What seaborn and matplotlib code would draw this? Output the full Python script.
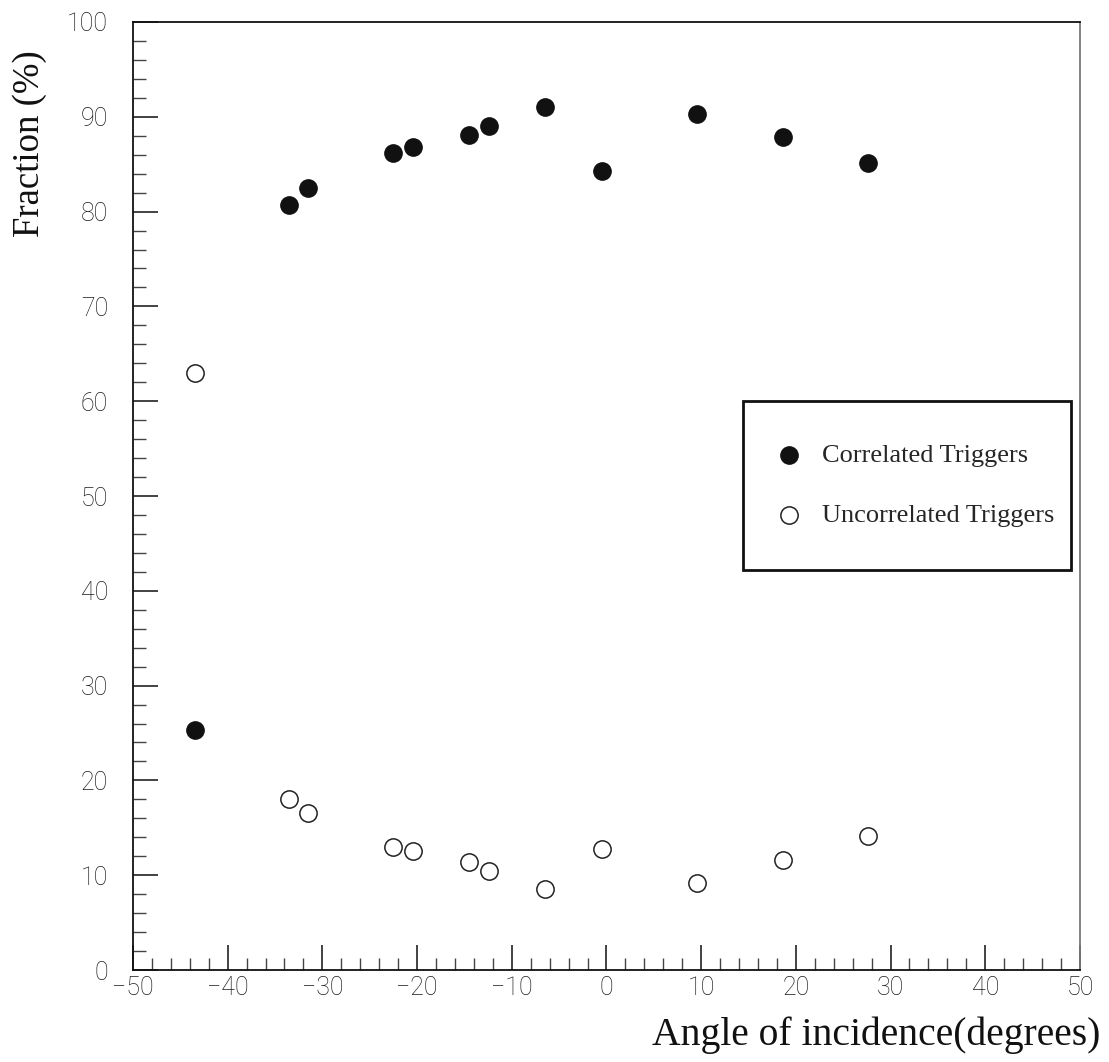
import numpy as np
import pandas as pd
import matplotlib
matplotlib.use("Agg")
import matplotlib.pyplot as plt
from matplotlib.ticker import MultipleLocator
import seaborn as sns

angles = [-43.5, -33.5, -31.5, -22.5, -20.4, -14.5, -12.4, -6.5, -0.5, 9.6, 18.6, 27.6]
correlated = [25.3, 80.7, 82.5, 86.2, 86.8, 88.1, 89.0, 91.0, 84.3, 90.3, 87.9, 85.1]
uncorrelated = [63.0, 18.0, 16.6, 13.0, 12.6, 11.4, 10.4, 8.5, 12.8, 9.2, 11.6, 14.1]

sns.set_theme(style="ticks")
plt.rcParams['font.family'] = ['Roboto', 'DejaVu Sans']

fig = plt.figure(figsize=(11.09, 10.62), dpi=100)
ax = fig.add_axes([0.1199, 0.0866, 0.8539, 0.8927])

df_c = pd.DataFrame({"angle": angles, "frac": correlated})
df_u = pd.DataFrame({"angle": angles, "frac": uncorrelated})

sns.scatterplot(data=df_c, x="angle", y="frac", ax=ax, s=155, color="#111111",
                edgecolor="#111111", linewidth=1.0, marker="o", label="Correlated Triggers", zorder=3)
sns.scatterplot(data=df_u, x="angle", y="frac", ax=ax, s=155, facecolor="white",
                edgecolor="#222222", linewidth=1.1, marker="o", label="Uncorrelated Triggers", zorder=3)

ax.set_xlim(-50, 50)
ax.set_ylim(0, 100)
ax.xaxis.set_major_locator(MultipleLocator(10))
ax.xaxis.set_minor_locator(MultipleLocator(2))
ax.yaxis.set_major_locator(MultipleLocator(10))
ax.yaxis.set_minor_locator(MultipleLocator(2))
ax.tick_params(which="major", direction="in", length=18, width=1.2, color="#222222",
               labelsize=18, labelcolor="#1a1a1a", top=False, right=False)
ax.tick_params(axis="x", which="major", pad=4)
ax.tick_params(axis="y", which="major", pad=18)
ax.tick_params(which="minor", direction="in", length=9, width=1.0, color="#444444",
               top=False, right=False)
for lbl in ax.get_xticklabels() + ax.get_yticklabels():
    lbl.set_fontweight("light")
for sp in ax.spines.values():
    sp.set_visible(True)
    sp.set_linewidth(1.3)
    sp.set_color("#111111")
ax.spines["right"].set_color("#777777")

ax.set_xlabel("")
ax.set_ylabel("")
fig.text(0.992, 0.008, "Angle of incidence(degrees)", ha="right", va="bottom",
         fontsize=28.5, family="Liberation Serif", color="#111111")
fig.text(0.011, 1 - 237 / 1062, "Fraction (%)", ha="left", va="bottom", rotation=90,
         fontsize=26.5, family="Liberation Serif", color="#111111")

leg = ax.legend(loc="upper left", bbox_to_anchor=(0.644, 0.426, 0.347, 0.174),
                mode="expand", frameon=True,
                fancybox=False, shadow=False, edgecolor="#111111",
                prop={"family": "Liberation Serif", "size": 19},
                borderpad=1.6, labelspacing=1.4, handletextpad=1.1,
                handlelength=0.3, borderaxespad=0, markerscale=1.0)
leg.get_frame().set_linewidth(2.0)
leg.get_frame().set_facecolor("white")
leg.get_frame().set_alpha(1)

fig.savefig("out.png", dpi=100, facecolor="white")
